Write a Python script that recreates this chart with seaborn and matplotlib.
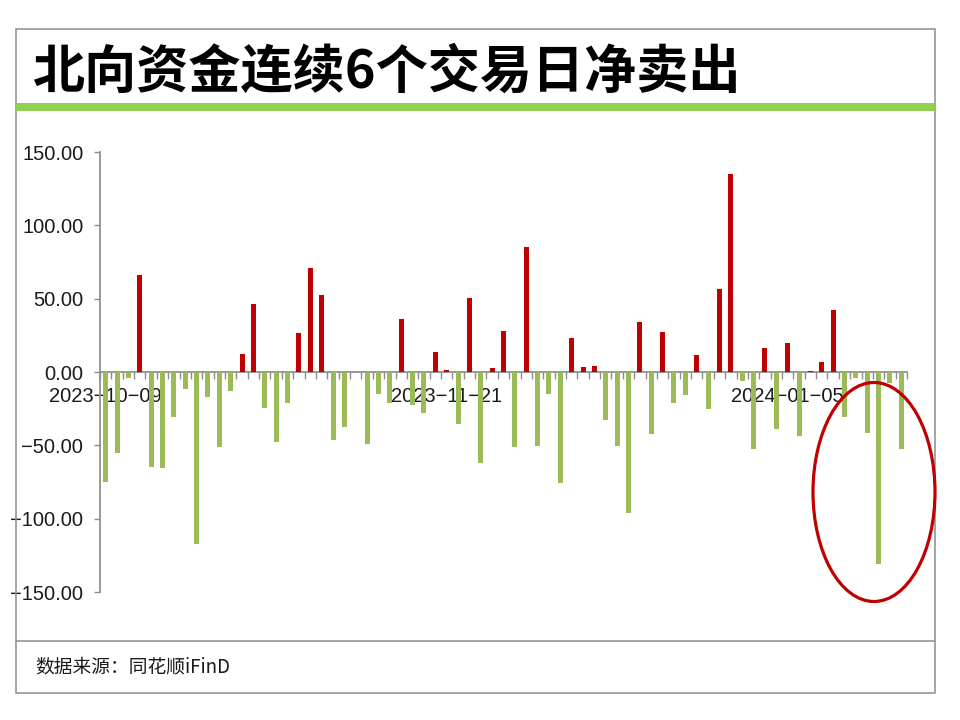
import numpy as np
import pandas as pd
import seaborn as sns
import matplotlib.pyplot as plt
from matplotlib.patches import Rectangle, Ellipse
from matplotlib.ticker import FuncFormatter, MultipleLocator

# 北向资金每日净买入（亿元）
values = [
    -75.0, -55.0, -4.3, 66.1, -64.5, -65.2, -30.5, -11.4, -117.3, -16.8,
    -50.9, -12.7, 12.3, 46.4, -24.3, -47.5, -20.9, 26.6, 70.9, 52.5,
    -46.4, -37.3, 0.0, -49.1, -15.0, -20.9, 36.1, -22.3, -28.2, 13.9,
    1.4, -35.5, 50.5, -61.8, 2.7, 28.2, -50.9, 85.2, -50.2, -15.0,
    -75.5, 23.2, 3.4, 4.1, -32.7, -50.2, -95.9, 34.1, -42.3, 27.3,
    -20.9, -15.5, 11.6, -25.0, 56.6, 135.0, -5.9, -52.7, 16.4, -39.1,
    20.0, -43.4, 0.5, 6.8, 42.3, -30.5, -4.1, -41.4, -130.7, -7.3,
    -52.3,
]
tick_pos = [0, 30, 60]
tick_labels = ["2023\u221210\u221209", "2023\u221211\u221221", "2024\u221201\u221205"]
y_ticks = [-150, -100, -50, 0, 50, 100, 150]

df = pd.DataFrame({"day": np.arange(len(values)), "net": values})
df["dir"] = np.where(df["net"] >= 0, "买入", "卖出")

sns.set_theme(style="white")
plt.rcParams["font.family"] = ["Liberation Sans", "Noto Sans CJK SC", "DejaVu Sans"]
plt.rcParams["axes.unicode_minus"] = True

fig = plt.figure(figsize=(9.6, 7.2), dpi=100)
W, H = 960, 720

def fx(px):
    return px / W

def fy(py):
    return 1 - py / H

# 外框、绿色横条、底部分隔线
fig.patches.append(Rectangle((fx(15.5), fy(693)), fx(934.5) - fx(15.5), fy(28.5) - fy(693),
                             transform=fig.transFigure, fill=False, edgecolor="#8c8c8c", lw=1.1))
fig.patches.append(Rectangle((fx(15.5), fy(110.5)), fx(934.5) - fx(15.5), fy(103) - fy(110.5),
                             transform=fig.transFigure, facecolor="#92D050", edgecolor="none"))
fig.lines.append(plt.Line2D([fx(15.5), fx(934.5)], [fy(640.5), fy(640.5)],
                            transform=fig.transFigure, color="#8c8c8c", lw=1.1))

fig.text(fx(33), fy(72), "北向资金连续6个交易日净卖出", fontsize=37.5, fontweight=900,
         family=["Noto Sans CJK SC", "DejaVu Sans"], color="#000000", va="center", ha="left")
fig.text(fx(35), fy(667), "数据来源：同花顺iFinD", fontsize=13.5,
         family=["Noto Sans CJK SC", "DejaVu Sans"], color="#1a1a1a", va="center", ha="left")

ax = fig.add_axes([fx(100), fy(592), fx(907) - fx(100), fy(152) - fy(592)])
sns.barplot(data=df, x="day", y="net", hue="dir", dodge=False, width=0.44,
            palette={"买入": "#C00000", "卖出": "#9BBB59"}, saturation=1,
            linewidth=0, legend=False, ax=ax)

ax.set_xlim(-0.5, len(values) - 0.5)
ax.set_ylim(-150, 150)
ax.set_xlabel("")
ax.set_ylabel("")

for s in ["top", "right"]:
    ax.spines[s].set_visible(False)
ax.spines["bottom"].set_position(("data", 0))
ax.spines["bottom"].set_color("#8c8c8c")
ax.spines["left"].set_color("#8c8c8c")
ax.spines["bottom"].set_zorder(0)

ax.set_yticks(y_ticks)
ax.yaxis.set_major_formatter(FuncFormatter(lambda v, p: f"{v:.2f}".replace("-", "\u2212")))
ax.tick_params(axis="y", which="major", direction="out", length=4, width=1, color="#8c8c8c",
               labelsize=14.5, labelcolor="#1a1a1a", pad=8, left=True)

ax.set_xticks(tick_pos, tick_labels)
ax.xaxis.set_minor_locator(MultipleLocator(1, offset=0.5))
ax.tick_params(axis="x", which="major", length=0, labelsize=14.5, labelcolor="#1a1a1a", pad=11)
ax.tick_params(axis="x", which="minor", direction="out", length=5, width=1, color="#8c8c8c", bottom=True)

# 圈出最近的连续净卖出
fig.patches.append(Ellipse((fx(874), fy(492)), fx(122), 219 / H, transform=fig.transFigure,
                           fill=False, edgecolor="#C00000", lw=2.3))

fig.savefig("out.png", dpi=100)
